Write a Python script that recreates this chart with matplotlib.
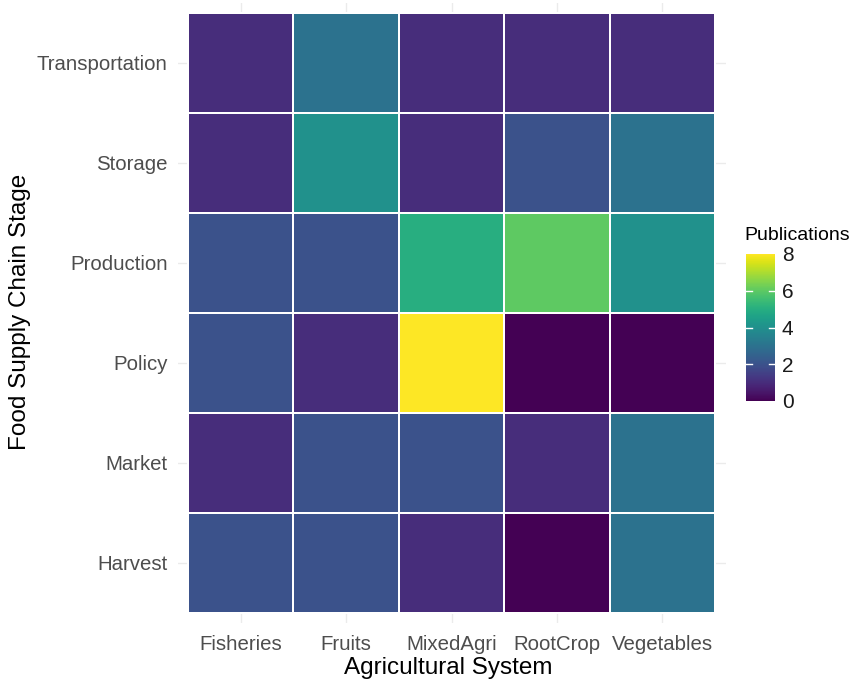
import matplotlib
matplotlib.use("Agg")
import matplotlib.pyplot as plt
import numpy as np

systems = ["Fisheries", "Fruits", "MixedAgri", "RootCrop", "Vegetables"]
stages = ["Harvest", "Market", "Policy", "Production", "Storage", "Transportation"]
# rows follow stages (bottom to top)
harvest = [2, 2, 1, 0, 3]
market = [1, 2, 2, 1, 3]
policy = [2, 1, 8, 0, 0]
production = [2, 2, 5, 6, 4]
storage = [1, 4, 1, 2, 3]
transportation = [1, 3, 1, 1, 1]
cbar_ticks = [0, 2, 4, 6, 8]

plt.rcParams['font.family'] = ['Liberation Sans', 'DejaVu Sans']
W, H = 857, 693
fig = plt.figure(figsize=(W/100, H/100), dpi=100)

px0, px1 = 177.5, 725.5
py0, py1 = 3, 623
ax = fig.add_axes([px0/W, 1-py1/H, (px1-px0)/W, (py1-py0)/H])
Z = np.array([harvest, market, policy, production, storage, transportation], dtype=float)
cmap = plt.get_cmap('viridis')
xs = np.arange(1, len(systems)+1)
ys = np.arange(1, len(stages)+1)
ax.set_xlim(0.4, len(systems)+0.6)
ax.set_ylim(0.4, len(stages)+0.6)
for x in xs:
    ax.axvline(x, color='#ebebeb', lw=1.0, zorder=0)
for y in ys:
    ax.axhline(y, color='#ebebeb', lw=1.0, zorder=0)
mesh = ax.pcolormesh(np.arange(0.5, len(systems)+1), np.arange(0.5, len(stages)+1), Z,
                     cmap=cmap, vmin=0, vmax=8, edgecolor='white', linewidth=1.2, zorder=2)
for s in ax.spines.values():
    s.set_visible(False)
ax.set_xticks(xs)
ax.set_xticklabels(systems)
ax.set_yticks(ys)
ax.set_yticklabels(stages)
ax.tick_params(axis='x', length=0, labelsize=14.7, labelcolor='#4d4d4d', pad=9)
ax.tick_params(axis='y', length=0, labelsize=14.7, labelcolor='#4d4d4d', pad=7)
fig.text(448/W, 1-668/H, "Agricultural System", fontsize=17.5, color='black',
         ha='center', va='center')
fig.text(20/W, 1-312/H, "Food Supply Chain Stage", fontsize=17.5, color='black',
         ha='center', va='center', rotation=90)

# colorbar
cx0, cx1 = 746, 775
cy0, cy1 = 254, 401
cax = fig.add_axes([cx0/W, 1-cy1/H, (cx1-cx0)/W, (cy1-cy0)/H])
cb = fig.colorbar(mesh, cax=cax, ticks=cbar_ticks)
cb.outline.set_visible(False)
cax.tick_params(length=0, labelsize=15, labelcolor='#1a1a1a', pad=5)
for t in cbar_ticks[1:-1]:
    cax.plot([0, 0.2], [t, t], color='white', lw=1, transform=cax.get_yaxis_transform())
    cax.plot([0.8, 1], [t, t], color='white', lw=1, transform=cax.get_yaxis_transform())
fig.text(744/W, 1-236/H, "Publications", fontsize=14, color='black', va='center', ha='left')

fig.savefig("out.png", dpi=100, facecolor='white')
